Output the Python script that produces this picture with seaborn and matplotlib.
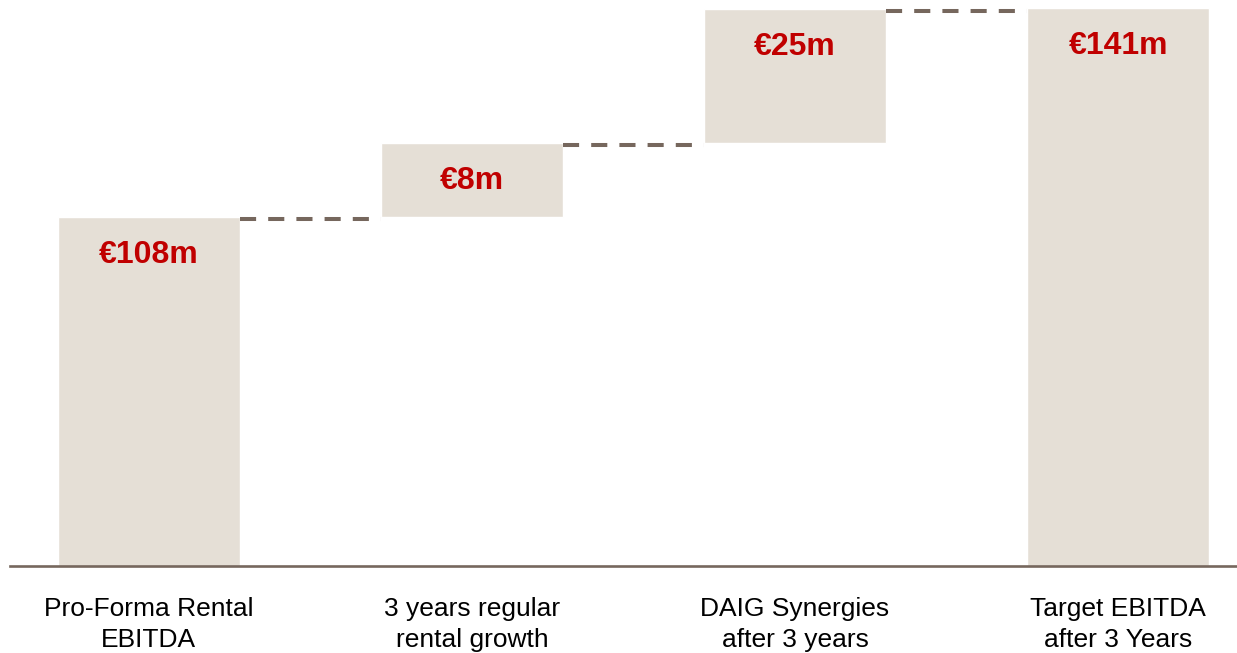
import seaborn as sns
import matplotlib.pyplot as plt
import pandas as pd

# Categories and the figures printed on the bars
categories = ["Pro-Forma Rental\nEBITDA", "3 years regular\nrental growth",
              "DAIG Synergies\nafter 3 years", "Target EBITDA\nafter 3 Years"]
values = [108, 8, 25, 141]           # EUR m, as labelled
# the slide is not drawn to scale, so the drawn heights are read off the picture
drawn_bottom = [0, 349, 423, 0]
drawn_height = [349, 74, 134, 558]

bar_color = "#E5DFD6"
line_color = "#76675D"
label_color = "#C00000"

df = pd.DataFrame({"category": categories, "height": drawn_height,
                   "bottom": drawn_bottom, "value": values})

sns.set_style("white")
plt.rcParams["font.family"] = ["Liberation Sans", "DejaVu Sans"]

fig = plt.figure(figsize=(12.37, 6.53), dpi=100)
ax = fig.add_axes([10 / 1237, 87 / 653, 1227 / 1237, 558 / 653])

width = 0.563
sns.barplot(data=df, x="category", y="height", bottom=df["bottom"].tolist(),
            color=bar_color, width=width, saturation=1, ax=ax)

tops = [b + h for b, h in zip(drawn_bottom, drawn_height)]

# dashed connectors between bars
for i in range(len(categories) - 1):
    ax.plot([i + width / 2, i + 1 - width / 2], [tops[i] - 2, tops[i] - 2],
            color=line_color, lw=2.9, linestyle=(0, (4, 3)), solid_capstyle="butt")

# value labels
for i, v in enumerate(values):
    ax.annotate(f"€{v}m", xy=(i, tops[i]), xytext=(0, -27.5), textcoords="offset points",
                ha="center", va="center", fontsize=23, fontweight="bold", color=label_color)

ax.set_xlim(-0.43, 3.368)
ax.set_ylim(0, 558)
ax.set_xlabel("")
ax.set_ylabel("")
ax.set_yticks([])
ax.tick_params(axis="x", length=0, pad=22, labelsize=19, labelcolor="black")
for lab in ax.get_xticklabels():
    lab.set_linespacing(1.38)

for side in ["top", "right", "left"]:
    ax.spines[side].set_visible(False)
ax.spines["bottom"].set_color(line_color)
ax.spines["bottom"].set_linewidth(1.9)

fig.savefig("out.png", dpi=100)
